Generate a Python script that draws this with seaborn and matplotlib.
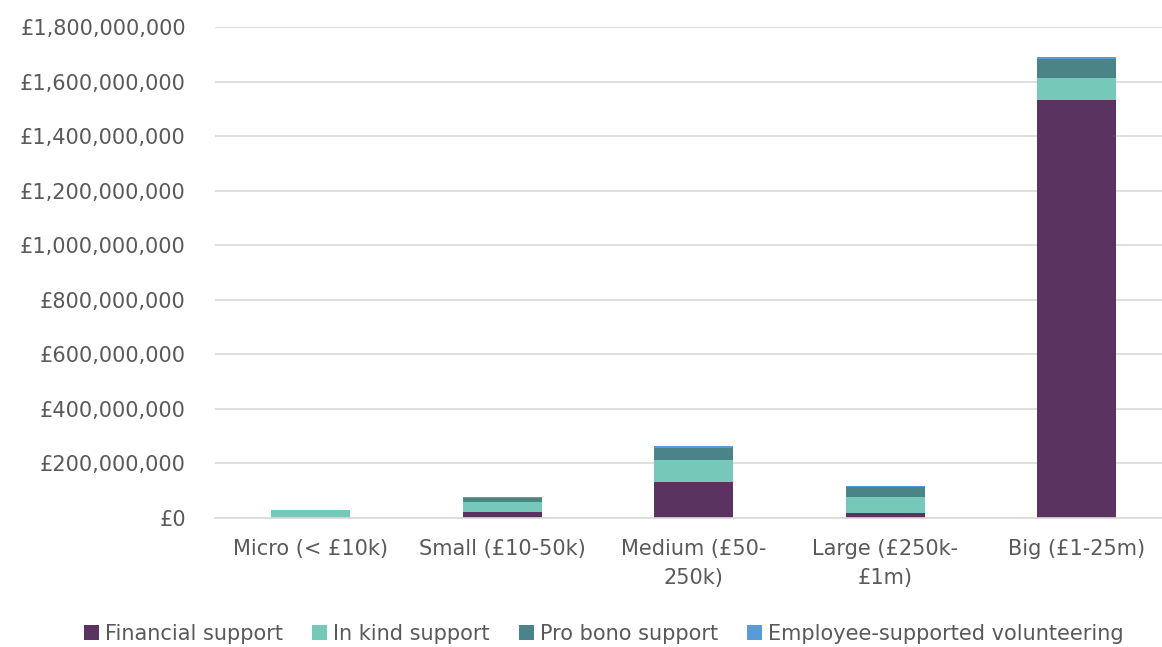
import numpy as np
import pandas as pd
import matplotlib
matplotlib.use("Agg")
import matplotlib.pyplot as plt
from matplotlib.ticker import FuncFormatter
from matplotlib.patches import Patch
import seaborn as sns

categories = ["Micro (< £10k)", "Small (£10-50k)", "Medium (£50-\n250k)",
              "Large (£250k-\n£1m)", "Big (£1-25m)"]
financial = [1_000_000, 23_000_000, 133_000_000, 19_000_000, 1_532_000_000]
in_kind = [27_000_000, 35_000_000, 79_000_000, 57_000_000, 82_000_000]
pro_bono = [1_000_000, 17_000_000, 45_000_000, 38_000_000, 70_000_000]
volunteering = [500_000, 1_000_000, 7_000_000, 5_000_000, 6_000_000]

series_names = ["Financial support", "In kind support", "Pro bono support",
                "Employee-supported volunteering"]
series_values = [financial, in_kind, pro_bono, volunteering]
colors = ["#5A3360", "#76C8B9", "#4A8489", "#5B9BD5"]

sns.set_theme(style="white")
plt.rcParams["font.family"] = ["DejaVu Sans"]
text_color = "#595959"
fs = 15

fig = plt.figure(figsize=(11.62, 6.47), dpi=100)
ax = fig.add_axes([215 / 1162, 0.1994, 947 / 1162, 0.7589])

bottom = np.zeros(len(categories))
for name, vals, col in zip(series_names, series_values, colors):
    df = pd.DataFrame({"category": categories, "value": vals})
    sns.barplot(data=df, x="category", y="value", color=col, width=0.41,
                bottom=bottom, ax=ax, saturation=1, errorbar=None,
                edgecolor="none")
    bottom = bottom + np.array(vals)

ax.set_ylim(0, 1_800_000_000)
ax.set_xlim(-0.5, -0.5 + 947 / 191.5)
ax.set_yticks(np.arange(0, 1_800_000_001, 200_000_000))
ax.yaxis.set_major_formatter(FuncFormatter(lambda v, p: f"£{v:,.0f}"))
ax.grid(axis="y", color="#D9D9D9", linewidth=1.2)
ax.set_axisbelow(True)
for s in ["top", "right", "left"]:
    ax.spines[s].set_visible(False)
ax.spines["bottom"].set_color("#D9D9D9")
ax.spines["bottom"].set_linewidth(1.2)
ax.set_xlabel("")
ax.set_ylabel("")
ax.tick_params(axis="both", length=0, labelsize=fs, colors=text_color)
ax.tick_params(axis="x", pad=15)
ax.tick_params(axis="y", pad=21)
for lbl in ax.get_xticklabels():
    lbl.set_linespacing(1.55)

handles = [Patch(facecolor=c, edgecolor="none") for c in colors]
fig.legend(handles, series_names, loc="center", bbox_to_anchor=(604 / 1162, 1 - 634 / 647),
           ncol=4, frameon=False, fontsize=fs, handlelength=0.7, handleheight=0.7,
           handletextpad=0.3, columnspacing=1.4, labelcolor=text_color)

fig.savefig("out.png", dpi=100)
